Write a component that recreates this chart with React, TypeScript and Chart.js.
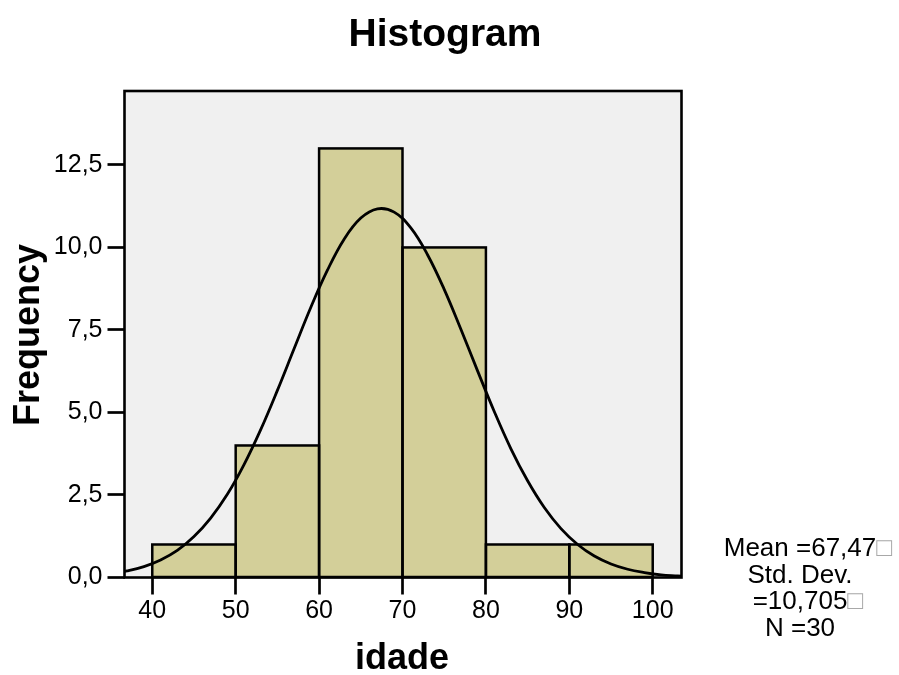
import { useEffect, useRef } from 'react';
import { Chart, registerables } from 'chart.js';

Chart.register(...registerables);

// Histogram bins (centres, width 10) and their counts
const binCenters = [45, 55, 65, 75, 85, 95];
const frequencies = [1, 4, 13, 10, 1, 1];

// Normal curve
const curveX = [35, 37, 39, 41, 43, 45, 47, 49, 51, 53, 55, 57, 59, 61, 63, 65, 67, 69, 71, 73, 75, 77, 79, 81, 83, 85, 87, 89, 91, 93, 95, 97, 99, 101, 103, 105];
const curveY = [0.11, 0.2, 0.33, 0.53, 0.82, 1.24, 1.8, 2.52, 3.42, 4.48, 5.67, 6.93, 8.18, 9.31, 10.25, 10.89, 11.17, 11.07, 10.59, 9.78, 8.73, 7.52, 6.26, 5.03, 3.9, 2.93, 2.12, 1.48, 1.0, 0.65, 0.41, 0.25, 0.15, 0.08, 0.05, 0.02];

const xTicks = [40, 50, 60, 70, 80, 90, 100];
const yTicks = [0, 2.5, 5, 7.5, 10, 12.5];

const titleText = 'Histogram';
const xTitle = 'idade';
const yTitle = 'Frequency';
const statsLines = ['Mean =67,47', 'Std. Dev.', '=10,705', 'N =30'];
const statsBoxed = [true, false, true, false];

const FONT = '"Liberation Sans", Arial, sans-serif';

export default function App() {
  const ref = useRef<HTMLCanvasElement | null>(null);

  useEffect(() => {
    document.body.style.margin = '0';
    const canvas = ref.current;
    if (!canvas) return;

    const decorPlugin = {
      id: 'decor',
      beforeDraw(chart: any) {
        const { ctx, chartArea: a } = chart;
        ctx.save();
        ctx.fillStyle = '#ffffff';
        ctx.fillRect(0, 0, chart.width, chart.height);
        ctx.fillStyle = '#F0F0F0';
        ctx.fillRect(a.left, a.top, a.right - a.left, a.bottom - a.top);
        ctx.restore();
      },
      afterDatasetDraw(chart: any, args: any) {
        if (args.index !== 1) return;
        const { ctx } = chart;
        ctx.save();
        ctx.strokeStyle = '#000';
        ctx.lineWidth = 2.5;
        args.meta.data.forEach((el: any) => {
          const p = el.getProps(['x', 'y', 'base', 'width'], true);
          ctx.strokeRect(p.x - p.width / 2, p.y, p.width, p.base - p.y);
        });
        ctx.restore();
      },
      afterDatasetsDraw(chart: any) {
        const { ctx, chartArea: a } = chart;
        ctx.save();
        ctx.strokeStyle = '#000';
        ctx.lineWidth = 2.6;
        ctx.strokeRect(a.left, a.top, a.right - a.left, a.bottom - a.top);
        ctx.restore();
      },
      afterDraw(chart: any) {
        const { ctx } = chart;
        ctx.save();
        ctx.fillStyle = '#000';
        // title
        ctx.font = `bold 39px ${FONT}`;
        ctx.textAlign = 'center';
        ctx.textBaseline = 'alphabetic';
        ctx.fillText(titleText, 445, 46);
        // x title
        ctx.font = `bold 36px ${FONT}`;
        ctx.fillText(xTitle, 402, 669);
        // y title
        ctx.save();
        ctx.translate(39, 335);
        ctx.rotate(-Math.PI / 2);
        ctx.fillText(yTitle, 0, 0);
        ctx.restore();
        // stats
        ctx.font = `26px ${FONT}`;
        const baselines = [556, 582.5, 609, 635.5];
        statsLines.forEach((line, i) => {
          ctx.textAlign = 'center';
          ctx.fillStyle = '#000';
          ctx.fillText(line, 800, baselines[i]);
          if (statsBoxed[i]) {
            const w = ctx.measureText(line).width;
            ctx.textAlign = 'left';
            ctx.fillStyle = '#a8a8a8';
            ctx.fillText('\u25A1', 800 + w / 2, baselines[i]);
          }
        });
        ctx.restore();
      },
    };

    const chart = new Chart(canvas, {
      type: 'bar',
      data: {
        datasets: [
          {
            type: 'line',
            data: curveX.map((x, i) => ({ x, y: curveY[i] })),
            borderColor: '#000',
            borderWidth: 2.8,
            pointRadius: 0,
            fill: false,
            tension: 0.4,
            order: 0,
          } as any,
          {
            type: 'bar',
            data: binCenters.map((x, i) => ({ x, y: frequencies[i] })),
            backgroundColor: '#D3CF99',
            borderWidth: 0,
            barPercentage: 1,
            categoryPercentage: 1,
            order: 1,
          } as any,
        ],
      },
      options: {
        responsive: false,
        animation: false,
        devicePixelRatio: window.devicePixelRatio || 1,
        layout: { padding: { left: 0, top: 91, right: 217.5, bottom: 0 } },
        plugins: {
          legend: { display: false },
          title: { display: false },
          tooltip: { enabled: false },
        },
        scales: {
          x: {
            type: 'linear',
            min: 36.67,
            max: 103.45,
            offset: false,
            afterFit(scale: any) {
              scale.height = 97.5;
            },
            afterBuildTicks(scale: any) {
              scale.ticks = xTicks.map((v) => ({ value: v }));
            },
            grid: {
              display: true,
              drawOnChartArea: false,
              drawTicks: true,
              tickLength: 17,
              tickWidth: 2.7,
              tickColor: '#000',
              offset: false,
            },
            border: { display: false },
            ticks: {
              color: '#000',
              font: { family: FONT, size: 25 },
              padding: 2,
              maxRotation: 0,
              autoSkip: false,
              callback: (v: any) => String(v),
            },
          },
          y: {
            type: 'linear',
            min: 0,
            max: 14.74,
            afterFit(scale: any) {
              scale.width = 124.5;
            },
            afterBuildTicks(scale: any) {
              scale.ticks = yTicks.map((v) => ({ value: v }));
            },
            grid: {
              display: true,
              drawOnChartArea: false,
              drawTicks: true,
              tickLength: 17,
              tickWidth: 2.7,
              tickColor: '#000',
            },
            border: { display: false },
            ticks: {
              color: '#000',
              font: { family: FONT, size: 25 },
              padding: 5,
              autoSkip: false,
              callback: (v: any) => Number(v).toFixed(1).replace('.', ','),
            },
          },
        },
      },
      plugins: [decorPlugin],
    });

    return () => chart.destroy();
  }, []);

  return (
    <div style={{ width: 899, height: 675 }}>
      <canvas ref={ref} width={899} height={675} style={{ display: 'block', width: 899, height: 675 }} />
    </div>
  );
}
